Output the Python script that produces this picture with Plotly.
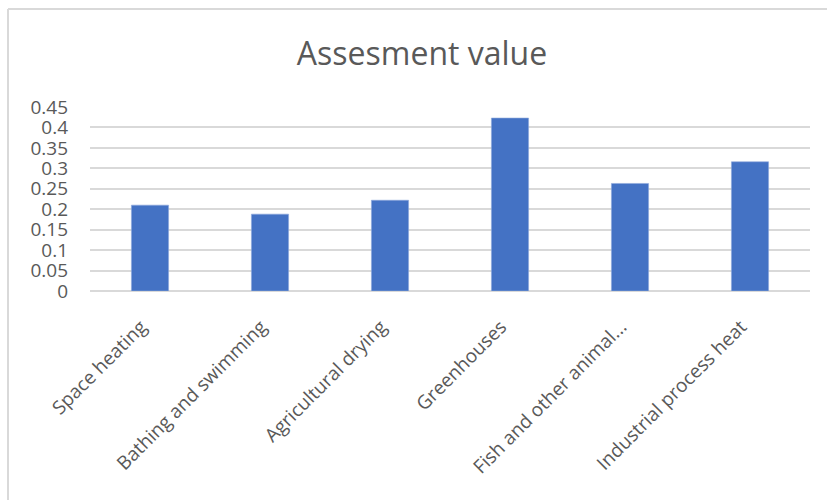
import plotly.graph_objects as go

categories = [
    "Space heating",
    "Bathing and swimming",
    "Agricultural drying",
    "Greenhouses",
    "Fish and other animal...",
    "Industrial process heat",
]
values = [0.21, 0.188, 0.222, 0.423, 0.263, 0.316]

y_ticks = [0, 0.05, 0.1, 0.15, 0.2, 0.25, 0.3, 0.35, 0.4, 0.45]
y_tick_labels = ["0", "0.05", "0.1", "0.15", "0.2", "0.25", "0.3", "0.35", "0.4", "0.45"]

W, H = 827, 500
L, R, T, B = 90, 17, 107, 209
plot_w = W - L - R
plot_h = H - T - B

fig = go.Figure(
    go.Bar(
        x=categories,
        y=values,
        width=0.31,
        marker=dict(color="#4472c4", line=dict(color="#8fa9dc", width=0.6)),
    )
)

# light frame along the top and left edges of the chart area
def px_x(p):
    return (p - L) / plot_w

def px_y(p):
    return (H - B - p) / plot_h

frame = dict(color="#d9d9d9", width=2)
fig.add_shape(type="line", xref="paper", yref="paper",
              x0=px_x(8), x1=px_x(830), y0=px_y(9), y1=px_y(9), line=frame)
fig.add_shape(type="line", xref="paper", yref="paper",
              x0=px_x(8), x1=px_x(8), y0=px_y(9), y1=px_y(505), line=frame)

fig.update_layout(
    width=W,
    height=H,
    margin=dict(l=L, r=R, t=T, b=B, pad=0),
    paper_bgcolor="white",
    plot_bgcolor="white",
    showlegend=False,
    font=dict(family="Open Sans, Noto Sans, sans-serif", color="#595959"),
    title=dict(
        text="Assesment value",
        x=(422 / W),
        xanchor="center",
        y=1 - 54 / H,
        yanchor="middle",
        font=dict(size=32, color="#595959"),
    ),
    bargap=0.69,
)

fig.update_xaxes(
    tickangle=-45,
    tickfont=dict(size=19, color="#595959"),
    showgrid=False,
    showline=False,
    ticks="",
    ticklen=0,
    ticklabelstandoff=20,
    ticklabelshift=-9,
)
fig.update_yaxes(
    range=[0, 0.45],
    tickvals=y_ticks,
    ticktext=y_tick_labels,
    tickfont=dict(size=19, color="#595959"),
    showgrid=True,
    gridcolor="#d9d9d9",
    gridwidth=1.5,
    zeroline=True,
    zerolinecolor="#d9d9d9",
    zerolinewidth=1.5,
    showline=False,
    ticks="",
    ticklabelstandoff=21,
)

fig.write_html("out.html")
